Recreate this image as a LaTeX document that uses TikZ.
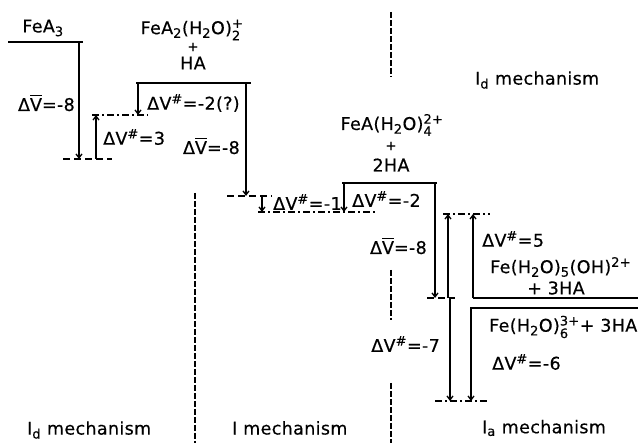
\documentclass[tikz,border=0pt]{standalone}
\usepackage{amsmath}
\usepackage{fontspec}
\setmainfont[LetterSpace=2,FakeBold=0.4]{DejaVu Sans}
\usetikzlibrary{arrows.meta}
\DeclareMathSizes{17.5}{17.5}{13}{10}
\newcommand\dVb{Δ$\overline{\text{V}}$}
\newcommand\dVs{ΔV$^{\text{\#}}$}
\newcommand\labfont{\fontsize{17.5}{20}\selectfont}
\begin{document}
\begin{tikzpicture}[x=1pt,y=-1pt,
  lvl/.style={line width=2pt},
  ilvl/.style={line width=1.3pt,dash pattern=on 7pt off 4pt},
  tslvl/.style={line width=1.3pt,dash pattern=on 7pt off 3pt on 2pt off 3pt},
  sep/.style={line width=1.1pt,dash pattern=on 6pt off 2pt},
  arr/.style={line width=1.3pt,-{Straight Barb[length=4pt,width=6pt]}},
  lab/.style={font=\labfont,inner sep=1pt},
  smallplus/.style={font=\fontsize{13}{15}\selectfont,inner sep=0pt}]
\useasboundingbox (0,0) rectangle (638,443);

% levels
\coordinate (l1a) at (8,42);   \coordinate (l1b) at (83,42);
\coordinate (l2a) at (136,83); \coordinate (l2b) at (251,83);
\coordinate (l3a) at (342,183);\coordinate (l3b) at (437,183);
\coordinate (l4a) at (473,298);\coordinate (l4b) at (638,298);
\coordinate (l5a) at (470,308);\coordinate (l5b) at (638,308);
\draw[lvl] (l1a) -- (l1b);
\draw[lvl] (l2a) -- (l2b);
\draw[lvl] (l3a) -- (l3b);
\draw[lvl] (l4a) -- (l4b);
\draw[lvl] (l5a) -- (l5b);

% intermediate levels
\coordinate (d1a) at (63,159);  \coordinate (d1b) at (112,159);
\coordinate (d2a) at (227,196); \coordinate (d2b) at (272,196);
\coordinate (d3a) at (427,298); \coordinate (d3b) at (455,298);
\draw[ilvl] (d1a) -- (d1b);
\draw[ilvl] (d2a) -- (d2b);
\draw[ilvl] (d3a) -- (d3b);

% transition-state levels
\coordinate (t1a) at (92,115);  \coordinate (t1b) at (148,115);
\coordinate (t2a) at (258,212); \coordinate (t2b) at (377,212);
\coordinate (t3a) at (443,214); \coordinate (t3b) at (490,214);
\coordinate (t4a) at (435,401); \coordinate (t4b) at (487,401);
\draw[tslvl] (t1a) -- (t1b);
\draw[tslvl] (t2a) -- (t2b);
\draw[tslvl] (t3a) -- (t3b);
\draw[tslvl] (t4a) -- (t4b);

% arrows
\coordinate (a1s) at (79,42);   \coordinate (a1e) at (79,159);
\coordinate (a2s) at (96,159);  \coordinate (a2e) at (96,115);
\coordinate (a3s) at (138,83);  \coordinate (a3e) at (138,115);
\coordinate (a4s) at (246,83);  \coordinate (a4e) at (246,196);
\coordinate (a5s) at (262,197); \coordinate (a5e) at (262,212);
\coordinate (a6s) at (344,183); \coordinate (a6e) at (344,212);
\coordinate (a7s) at (435,183); \coordinate (a7e) at (435,298);
\coordinate (a8s) at (448,298); \coordinate (a8e) at (448,214);
\coordinate (a9s) at (473,298); \coordinate (a9e) at (473,214);
\coordinate (a10s) at (450,298);\coordinate (a10e) at (450,401);
\coordinate (a11s) at (471,308);\coordinate (a11e) at (471,401);
\foreach \i in {1,...,11} {\draw[arr] (a\i s) -- (a\i e);}

% separators
\coordinate (v1a) at (195,193); \coordinate (v1b) at (195,443);
\coordinate (v2a) at (391,12);  \coordinate (v2b) at (391,77);
\coordinate (v3a) at (391,270); \coordinate (v3b) at (391,320);
\coordinate (v4a) at (391,383); \coordinate (v4b) at (391,443);
\draw[sep] (v1a) -- (v1b);
\draw[sep] (v2a) -- (v2b);
\draw[sep] (v3a) -- (v3b);
\draw[sep] (v4a) -- (v4b);

% species labels
\node[lab] (fea3) at (43,28) {FeA$_{\text{3}}$};
\node[lab] (fea2) at (192,30) {FeA$_{\text{2}}$(H$_{\text{2}}$O)$^{\text{+}}_{\text{2}}$};
\node[smallplus] (plus1) at (193,47) {+};
\node[lab] (ha1) at (193,63) {HA};
\node[lab] (fea1) at (392,125) {FeA(H$_{\text{2}}$O)$^{\text{2+}}_{\text{4}}$};
\node[smallplus] (plus2) at (391,146) {+};
\node[lab] (ha2) at (391,165) {2HA};
\node[lab,anchor=west] (feoh) at (489,267) {Fe(H$_{\text{2}}$O)$_{\text{5}}$(OH)$^{\text{2+}}$};
\node[lab,anchor=west] (ha3) at (526,288) {+ 3HA};
\node[lab,anchor=west] (feaq) at (488,327) {Fe(H$_{\text{2}}$O)$^{\text{3+}}_{\text{6}}$+ 3HA};

% volume labels
\node[lab,anchor=east] (v1) at (76,103) {\dVb=-8};
\node[lab,anchor=west] (s1) at (102,137) {\dVs=3};
\node[lab,anchor=west] (s2) at (146,103) {\dVs=-2(?)};
\node[lab,anchor=east] (v2) at (241,146) {\dVb=-8};
\node[lab,anchor=west] (s3) at (272,202) {\dVs=-1};
\node[lab,anchor=west] (s4) at (351,199) {\dVs=-2};
\node[lab,anchor=east] (v3) at (428,246) {\dVb=-8};
\node[lab,anchor=west] (s5) at (481,239) {\dVs=5};
\node[lab,anchor=east] (s6) at (441,344) {\dVs=-7};
\node[lab,anchor=west] (s7) at (491,362) {\dVs=-6};

% mechanism labels
\node[lab,anchor=west] (m1) at (474,80) {I$_{\text{d}}$ mechanism};
\node[lab,anchor=west] (m2) at (26,430) {I$_{\text{d}}$ mechanism};
\node[lab,anchor=west] (m3) at (231,428) {I mechanism};
\node[lab,anchor=west] (m4) at (481,428) {I$_{\text{a}}$ mechanism};
\end{tikzpicture}
\end{document}
